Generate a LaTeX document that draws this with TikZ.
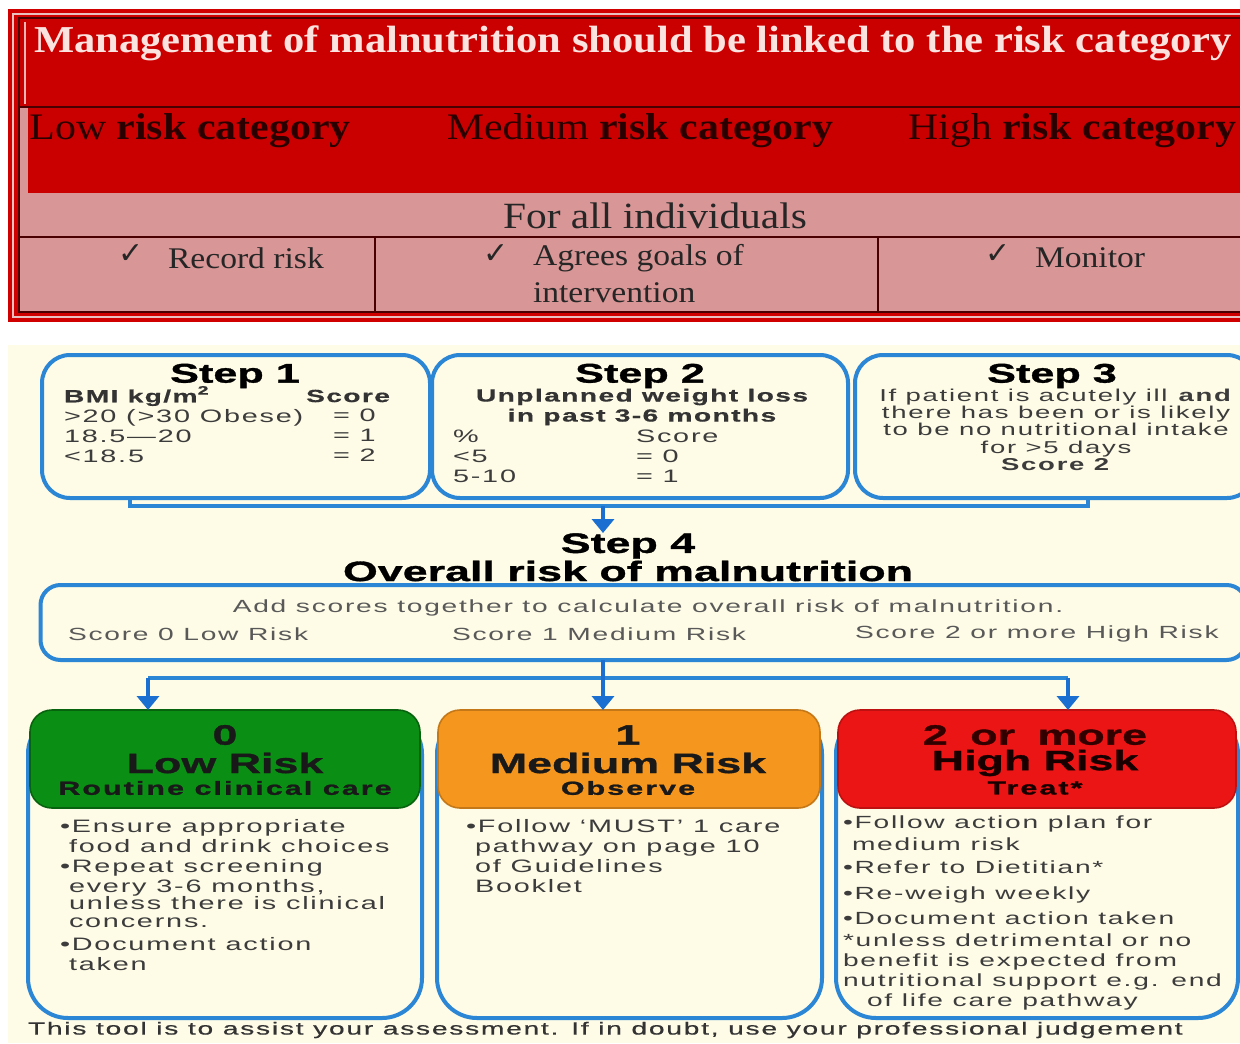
\documentclass[tikz,border=0pt]{standalone}
\usepackage{fontspec}
\usetikzlibrary{arrows.meta}
\setmainfont{Liberation Serif}
\newfontfamily\ser[FakeStretch=1.12]{Liberation Serif}
\newfontfamily\chk{DejaVu Sans}
\newfontfamily\hdf[FakeStretch=1.6,FakeBold=1.2]{Liberation Sans Bold}
\newfontfamily\hdsub[FakeStretch=1.6,FakeBold=1.2,LetterSpace=11]{Liberation Sans Bold}
\newfontfamily\bdf[FakeStretch=1.6,LetterSpace=10]{Liberation Sans}
\newfontfamily\ftf[FakeStretch=1.6,LetterSpace=10,FakeBold=0.5]{Liberation Sans}
\newfontfamily\bdb[FakeStretch=1.6,LetterSpace=8,FakeBold=0.6]{Liberation Sans Bold}
\definecolor{topred}{HTML}{D00000}
\definecolor{rowred}{HTML}{CA0000}
\definecolor{rowpink}{HTML}{D99696}
\definecolor{darkline}{HTML}{4A0000}
\definecolor{titletxt}{HTML}{FBE3E0}
\definecolor{cattxt}{HTML}{2A0000}
\definecolor{cream}{HTML}{FEFBE6}
\definecolor{bblue}{HTML}{2C86D6}
\definecolor{ablue}{HTML}{1A6FD0}
\definecolor{lgreen}{HTML}{0B8E14}
\definecolor{morange}{HTML}{F5961E}
\definecolor{hred}{HTML}{EC1515}
\definecolor{txt}{HTML}{3C3C3C}
\begin{document}
\begin{tikzpicture}[x=0.5pt,y=-0.5pt,
  every node/.style={inner sep=0pt, outer sep=0pt},
  stepbox/.style={draw=bblue, line width=2pt, fill=cream, rounded corners=14pt},
  bodybox/.style={draw=bblue, line width=2pt, fill=cream, rounded corners=20pt},
  headbox/.style={rounded corners=11pt, line width=0.8pt},
  conn/.style={draw=bblue, line width=2.2pt},
  arr/.style={draw=ablue, line width=2.2pt, -{Triangle[width=11pt,length=7pt]}},
  ttl/.style={font=\ser\bfseries\fontsize{19}{22}\selectfont, text=titletxt},
  cat/.style={font=\ser\fontsize{18.7}{21}\selectfont, text=cattxt},
  cell/.style={font=\ser\fontsize{15}{18}\selectfont, text=black!85},
  ck/.style={font=\chk\fontsize{15}{17}\selectfont, text=black!85},
  stephd/.style={font=\hdf\fontsize{13.5}{15}\selectfont, text=black},
  bighd/.style={font=\hdf\fontsize{14}{16}\selectfont, text=black},
  stb/.style={font=\bdb\fontsize{8.8}{10}\selectfont, text=black!80},
  str/.style={font=\bdf\fontsize{9}{10}\selectfont, text=txt},
  riskhd/.style={font=\hdf\fontsize{14}{16}\selectfont},
  risksub/.style={font=\hdsub\fontsize{9.5}{11}\selectfont},
  body/.style={font=\bdf\fontsize{9}{10}\selectfont, text=txt, align=left, anchor=north west}
]
\useasboundingbox (0,0) rectangle (1240,1043);
\fill[white] (0,0) rectangle (1240,1043);

% ---------------- top table ----------------
\fill[topred] (8,9) rectangle (1240,322);
\draw[rowpink!60!white, line width=0.8pt] (13,14) rectangle (1250,317);
\fill[rowred] (19,18) rectangle (1240,107);
\fill[rowred] (28,107) rectangle (1240,193);
\fill[rowpink] (19,107) rectangle (28,193);
\fill[rowpink] (19,193) rectangle (1240,312);
\draw[darkline, line width=0.9pt] (19,18) rectangle (1250,312);
\draw[rowpink!70!white, line width=0.6pt] (25,22) -- (25,104);
\draw[darkline, line width=1.2pt] (19,107) -- (1240,107);
\draw[darkline, line width=1pt] (19,237) -- (1240,237);
\draw[darkline, line width=1pt] (375,237) -- (375,312);
\draw[darkline, line width=1pt] (878,237) -- (878,312);

\node[ttl] (title) at (633,43) {Management of malnutrition should be linked to the risk category};
\node[cat] (clow) at (190,131) {Low \textbf{risk category}};
\node[cat] (cmed) at (640,131) {Medium \textbf{risk category}};
\node[cat, anchor=east] (chigh) at (1236,131) {High \textbf{risk category}};
\node[cell, font=\ser\fontsize{18.5}{20}\selectfont] (forall) at (655,216) {For all individuals};
\node[ck] (ck1) at (131,254) {✓};
\node[cell, anchor=west] (rec) at (168,258) {Record risk};
\node[ck] (ck2) at (496,254) {✓};
\node[cell, anchor=west] (agr) at (533,258) {Agrees goals of};
\node[cell, anchor=west] (intv) at (533,293) {intervention};
\node[ck] (ck3) at (998,254) {✓};
\node[cell, anchor=west] (mon) at (1035,258) {Monitor};

% ---------------- flow chart ----------------
\fill[cream] (8,345) rectangle (1240,1043);

\node[stepbox, minimum width=194pt, minimum height=71.5pt] (s1) at (236,426.5) {};
\node[stepbox, minimum width=208pt, minimum height=71.5pt] (s2) at (640,426.5) {};
\node[stepbox, minimum width=200pt, minimum height=71.5pt] (s3) at (1055,426.5) {};

\node[stephd] (s1h) at (235,376) {Step 1};
\node[stb, anchor=west] (s1a) at (64,396) {BMI kg/m\textsuperscript{2}};
\node[stb, anchor=east] (s1b) at (390,396) {Score};
\node[str, anchor=north west, align=left] (s1c) at (64,409) {>20 (>30 Obese)\\18.5—20\\<18.5};
\node[str, anchor=north west, align=left] (s1d) at (333,409) {= 0\\= 1\\= 2};

\node[stephd] (s2h) at (640,376) {Step 2};
\node[stb] (s2a) at (642,397) {Unplanned weight loss};
\node[stb] (s2b) at (642,417) {in past 3-6 months};
\node[str, anchor=north west, align=left] (s2c) at (453,430) {\%\\<5\\5-10};
\node[str, anchor=north west, align=left] (s2d) at (636,430) {Score\\= 0\\= 1};

\node[stephd] (s3h) at (1052,376) {Step 3};
\node[str, align=center, anchor=north, font=\bdf\fontsize{8.6}{8.6}\selectfont] (s3a) at (1056,389)
  {If patient is acutely ill \textbf{and}\\there has been or is likely\\to be no nutritional intake\\for >5 days\\\textbf{Score 2}};

% bracket and arrow to step 4
\coordinate (bl) at (130,506);
\coordinate (br) at (1088,506);
\coordinate (bm) at (603,506);
\draw[conn] (s1.south -| bl) -- (bl) -- (br) -- (s3.south -| br);
\draw[arr] (bm) -- (603,533);

\node[bighd] (s4a) at (628,546) {Step 4};
\node[bighd] (s4b) at (628,571) {Overall risk of malnutrition};

\node[stepbox, rounded corners=10pt, minimum width=603pt, minimum height=37.5pt] (s4) at (643.5,622.5) {};
\node[str, text=black!65, font=\bdf\fontsize{8.8}{10}\selectfont] (s4c) at (648,608) {Add scores together to calculate overall risk of malnutrition.};
\node[str, anchor=west, text=black!65, font=\bdf\fontsize{8.8}{10}\selectfont] (s4d) at (68,634) {Score 0 Low Risk};
\node[str, anchor=west, text=black!65, font=\bdf\fontsize{8.8}{10}\selectfont] (s4e) at (452,634) {Score 1 Medium Risk};
\node[str, anchor=west, text=black!65, font=\bdf\fontsize{8.8}{10}\selectfont] (s4f) at (855,634) {Score 2 or more High Risk};

% risk boxes
\node[bodybox, minimum width=197pt, minimum height=152pt] (lowb) at (225,866) {};
\node[bodybox, minimum width=192.5pt, minimum height=152pt] (medb) at (629.5,866) {};
\node[bodybox, minimum width=201pt, minimum height=152pt] (highb) at (1037,866) {};

\node[headbox, fill=lgreen, draw=lgreen!70!black, minimum width=195pt, minimum height=49pt] (lowh) at (225,759) {};
\node[headbox, fill=morange, draw=morange!80!black, minimum width=191pt, minimum height=49pt] (medh) at (629,759) {};
\node[headbox, fill=hred, draw=hred!80!black, minimum width=199pt, minimum height=49pt] (highh) at (1037,759) {};

% distribution arrows
\coordinate (dl) at (148,678);
\coordinate (dm) at (603,678);
\coordinate (dr) at (1068,678);
\draw[conn] (dl) -- (dr);
\draw[arr] (s4.south -| dm) -- (dm |- lowh.north);
\draw[arr] (dl) -- (dl |- lowh.north);
\draw[arr] (dr) -- (dr |- highh.north);

\node[riskhd, text=black!90] (l0) at (225,735) {0};
\node[riskhd, text=black!90] (l1) at (225,763) {Low Risk};
\node[risksub, text=black!90] (l2) at (225,788) {Routine clinical care};
\node[riskhd, text=black!90] (m0) at (628,735) {1};
\node[riskhd, text=black!90] (m1) at (628,763) {Medium Risk};
\node[risksub, text=black!90] (m2) at (628,788) {Observe};
\node[riskhd, text=black!80!red] (h0) at (1035,735) {2\hspace{5pt} or\hspace{5pt} more};
\node[riskhd, text=black!90!red] (h1) at (1035,763) {High Risk};
\node[risksub, text=black!90!red] (h2) at (1035,788) {Treat*};

\node[body] (lowt) at (60,819) {•Ensure appropriate\\
\hspace*{4.5pt}food and drink choices\\[0.3pt]
•Repeat screening\\
\hspace*{4.5pt}every 3-6 months,\\[-1.5pt]
\hspace*{4.5pt}unless there is clinical\\[-1pt]
\hspace*{4.5pt}concerns.\\[1.5pt]
•Document action\\
\hspace*{4.5pt}taken};

\node[body] (medt) at (466,819) {•Follow ‘MUST’ 1 care\\
\hspace*{4.5pt}pathway on page 10\\
\hspace*{4.5pt}of Guidelines\\
\hspace*{4.5pt}Booklet};

\node[body, font=\bdf\fontsize{8.8}{10}\selectfont] (hight) at (843,816) {•Follow action plan for\\[1pt]
\hspace*{4.5pt}medium risk\\[1.5pt]
•Refer to Dietitian*\\[3pt]
•Re-weigh weekly\\[2.5pt]
•Document action taken\\[1pt]
*unless detrimental or no\\
benefit is expected from\\
nutritional support e.g. end\\
\hspace*{12pt}of life care pathway};

\node[font=\ftf\fontsize{8.8}{10}\selectfont, text=black!80, anchor=west] (foot) at (28,1030)
  {This tool is to assist your assessment. If in doubt, use your professional judgement};
\end{tikzpicture}
\end{document}
